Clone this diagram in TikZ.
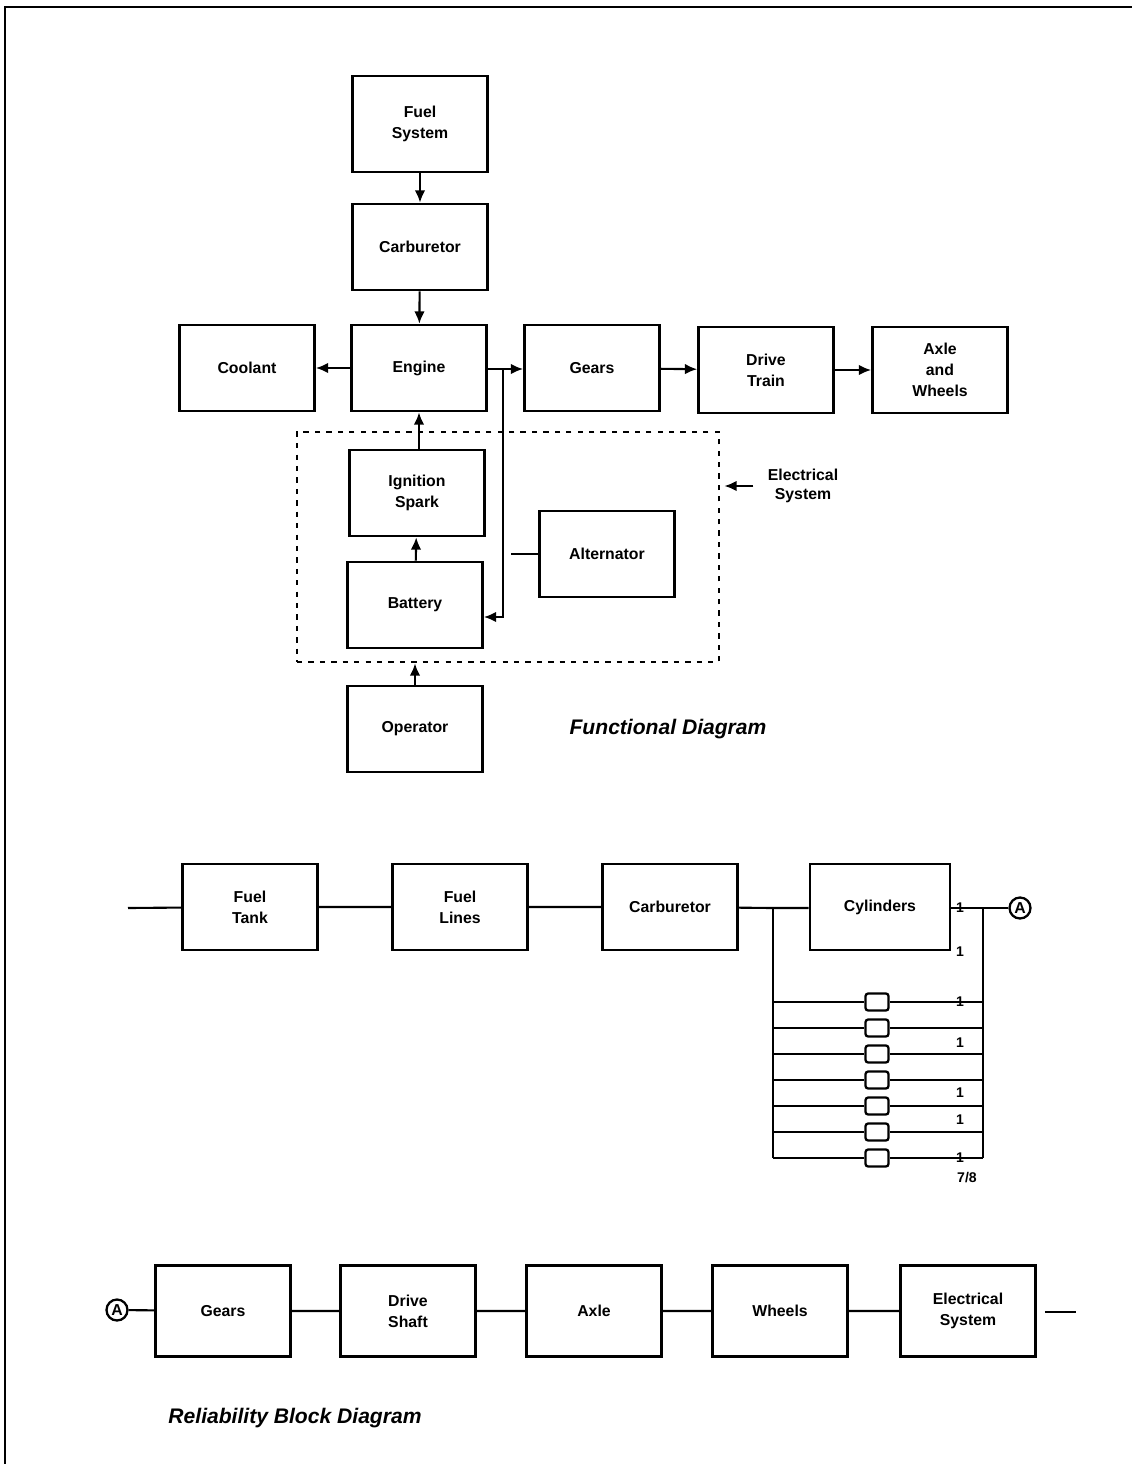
\documentclass[tikz,border=0pt]{standalone}
\usepackage{fontspec}
\setsansfont{Liberation Sans}
\usepackage{tikz}
\usetikzlibrary{%
  arrows,%
  arrows.meta,%
  calc,%
  shapes.geometric,%
  positioning}

\tikzset{
  bloc/.style={rectangle,draw,line width=1.5pt,minimum width=2.7cm,minimum height=1.72cm,
    align=center,inner sep=1pt,font=\sffamily\bfseries\fontsize{9}{12}\selectfont},
  cyl/.style={rectangle,draw,line width=1.3pt,rounded corners=1.5pt,minimum width=0.46cm,
    minimum height=0.34cm,inner sep=0pt},
  conn/.style={circle,draw,line width=1.3pt,minimum size=0.42cm,inner sep=0pt,
    font=\sffamily\bfseries\fontsize{9}{9}\selectfont},
  one/.style={inner sep=0pt,font=\sffamily\bfseries\fontsize{8}{8}\selectfont},
  titre/.style={font=\sffamily\bfseries\itshape\fontsize{12}{14}\selectfont}
}

\begin{document}
\begin{tikzpicture}[x=0.02cm,y=-0.02cm,>={Latex[length=7pt,width=6pt]},line width=1.2pt]
\useasboundingbox (0,0) rectangle (1132,1464);
\draw[line width=1.2pt] (5,1464) -- (5,7) -- (1132,7);

% diagramme fonctionnel
\node (FS) at (420,124) [bloc,minimum height=1.92cm] {Fuel\\System};
\node (CA) at (420,247) [bloc] {Carburetor};
\node (EN) at (419,368) [bloc] {Engine};
\node (CO) at (247,368) [bloc] {Coolant};
\node (GE) at (592,368) [bloc] {Gears};
\node (DT) at (766,370) [bloc] {Drive\\Train};
\node (AW) at (940,370) [bloc] {Axle\\and\\Wheels};
\node (ES) at (508,547) [rectangle,draw,line width=1.6pt,dash pattern=on 3pt off 3.5pt,
  minimum width=8.44cm,minimum height=4.6cm] {};
\node (IS) at (417,493) [bloc] {Ignition\\Spark};
\node (BA) at (415,605) [bloc] {Battery};
\node (AL) at (607,554) [bloc] {Alternator};
\node (OP) at (415,729) [bloc] {Operator};
\node (EL) at (803,486) [align=center,font=\sffamily\bfseries\fontsize{9}{11}\selectfont] {Electrical\\System};
\node (FD) at (668,729) [titre] {Functional Diagram};
\coordinate (j1) at (503,369);
\coordinate (j2) at (503,617);
\coordinate (a1) at (511,554);
\draw[->] (FS) -- (CA);
\draw[->] (CA) -- (EN);
\draw[->] (EN) -- (CO);
\draw (EN.east |- j1) -- (j1);
\draw[->] (j1) -- (GE.west |- j1);
\draw[->] (j1) -- (j2) -- (BA.east |- j2);
\draw[->] (GE) -- (DT);
\draw[->] (DT) -- (AW);
\draw[->] (IS.north -| EN.south) -- (EN.south);
\draw[->] (BA) -- (IS);
\draw[->] (OP) -- (OP |- ES.south);
\draw (AL.west) -- (a1);
\draw[->] ([xshift=-0.15cm]EL.west) -- ([xshift=0.08cm]ES.east |- EL.west);

% diagramme de fiabilite
\node (FT) at (250,907) [bloc] {Fuel\\Tank};
\node (FL) at (460,907) [bloc] {Fuel\\Lines};
\node (CB) at (670,907) [bloc] {Carburetor};
\node (CY) at (880,907) [bloc,minimum width=2.8cm] {Cylinders};
\node (A1) at (1020,908) [conn] {A};
\coordinate (in) at (128,908);
\coordinate (lb) at (773,908);
\coordinate (rb) at (983,908);
\foreach \i in {0,...,6}
  \node (s\i) at (877,1002+26*\i) [cyl] {};
\draw (in) -- (FT) -- (FL) -- (CB) -- (lb) -- (CY.west |- lb);
\draw (CY.east |- rb) -- (rb) -- (A1);
\draw (lb) -- (lb |- s6);
\draw (rb) -- (rb |- s6);
\foreach \i in {0,...,6}
  \draw (lb |- s\i) -- (s\i) -- (rb |- s\i);
\foreach \y in {908,952,1002,1043,1093,1120,1158}
  \node at (960,\y) [one] {1};
\node (SEPT) at (967,1178) [one] {7/8};

% suite A
\node (A2) at (117,1310) [conn] {A};
\node (G2) at (223,1311) [bloc,minimum height=1.82cm] {Gears};
\node (DS) at (408,1311) [bloc,minimum height=1.82cm] {Drive\\Shaft};
\node (AX) at (594,1311) [bloc,minimum height=1.82cm] {Axle};
\node (WH) at (780,1311) [bloc,minimum height=1.82cm] {Wheels};
\node (EY) at (968,1311) [bloc,minimum height=1.82cm] {Electrical\\System};
\coordinate (out) at (1076,1312);
\draw (A2) -- (G2) -- (DS) -- (AX) -- (WH) -- (EY);
\draw ([xshift=0.16cm]EY.east |- out) -- (out);
\node (RB) at (295,1418) [titre] {Reliability Block Diagram};
\end{tikzpicture}
\end{document}
